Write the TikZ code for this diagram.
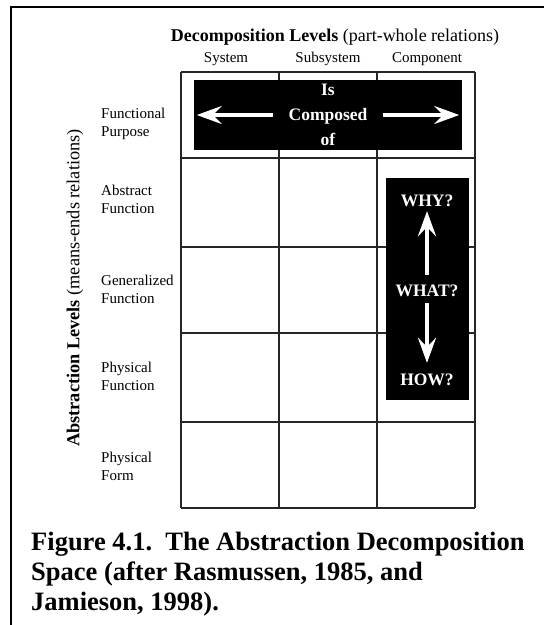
\documentclass[tikz,border=0pt]{standalone}
\usepackage{fontspec}
\setmainfont{Liberation Serif}
\usetikzlibrary{arrows.meta}
\begin{document}
\begin{tikzpicture}[x=1pt,y=-1pt,
  lbl/.style={inner sep=0pt, font=\fontsize{15}{18}\selectfont, align=left, anchor=west},
  hdr/.style={inner sep=0pt, font=\fontsize{15}{18}\selectfont, anchor=base},
  wlbl/.style={inner sep=0pt, text=white, font=\fontsize{17.5}{25}\selectfont\bfseries, align=center},
  blackbox/.style={fill=black, inner sep=0pt},
  gridline/.style={line width=2pt, draw=black!85},
  warrow/.style={draw=white, line width=4pt, -{Stealth[length=25pt,width=18pt,inset=9pt]}},
  capline/.style={inner sep=0pt, anchor=base west, font=\fontsize{26.5}{30}\selectfont\bfseries},
  axislbl/.style={inner sep=0pt, font=\fontsize{18}{22}\selectfont}]
\useasboundingbox (0,0) rectangle (544,625);
\fill[white] (0,0) rectangle (544,625);
% frame
\draw[line width=1.8pt] (11,625) -- (11,7) -- (544,7);
% grid
\foreach \x in {181,279,377,475} \draw[gridline] (\x,72) -- (\x,508);
\foreach \y in {72,158,247,333,422,508} \draw[gridline] (181,\y) -- (475,\y);
% headers
\node[axislbl, anchor=base] (title) at (335,41) {\textbf{Decomposition Levels} (part-whole relations)};
\node[hdr] (sys) at (226,62) {System};
\node[hdr] (sub) at (328,62) {Subsystem};
\node[hdr] (cmp) at (427,62) {Component};
\node[axislbl, rotate=90, font=\fontsize{18.3}{22}\selectfont] (abs) at (75,288) {\textbf{Abstraction Levels} (means-ends relations)};
% row labels
\node[lbl] (fp) at (101,124) {Functional\\Purpose};
\node[lbl] (af) at (101,199) {Abstract\\Function};
\node[lbl] (gf) at (101,289) {Generalized\\Function};
\node[lbl] (pf) at (101,376) {Physical\\Function};
\node[lbl] (pfo) at (101,466) {Physical\\Form};
% top black box
\node[blackbox, minimum width=268pt, minimum height=70pt] (topbox) at (328,115) {};
\node[wlbl] (comp) at (328,115) {Is\\Composed\\of};
\draw[warrow, shorten <=15pt, shorten >=3pt] (comp.west) -- (topbox.west);
\draw[warrow, shorten <=15pt, shorten >=3pt] (comp.east) -- (topbox.east);
% vertical black box
\node[blackbox, minimum width=83pt, minimum height=222pt] (vbox) at (427.5,289) {};
\node[wlbl] (why) at (427,201) {WHY?};
\node[wlbl] (what) at (427,291) {WHAT?};
\node[wlbl] (how) at (427,380) {HOW?};
\draw[warrow, shorten <=10pt, shorten >=4pt] (what.north) -- (why.south);
\draw[warrow, shorten <=6pt, shorten >=11pt] (what.south) -- (how.north);
% caption
\node[capline] (c1) at (31,550) {Figure 4.1.\ \ The Abstraction Decomposition};
\node[capline] (c2) at (31,580) {Space (after Rasmussen, 1985, and};
\node[capline] (c3) at (31,610) {Jamieson, 1998).};
\end{tikzpicture}
\end{document}
